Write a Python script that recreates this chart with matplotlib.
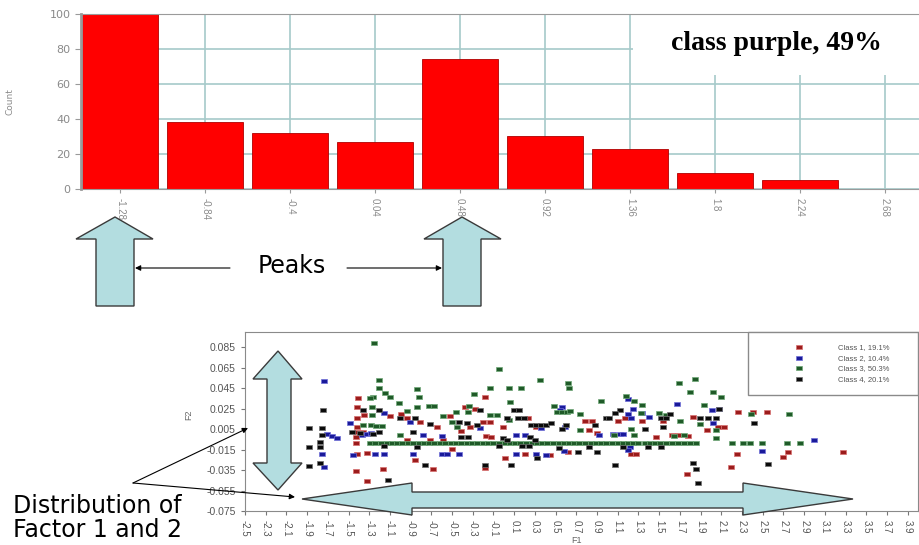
import matplotlib.pyplot as plt
import numpy as np
from matplotlib.patches import Polygon, Rectangle, FancyArrowPatch

W, H = 919, 545

# --- histogram data (class purple) ---
bin_labels = ['-1.28', '-0.84', '-0.4', '0.04', '0.48', '0.92', '1.36', '1.8', '2.24', '2.68']
bin_counts = [100, 38, 32, 27, 74, 30, 23, 9, 5, 0]
count_ticks = [0, 20, 40, 60, 80, 100]

# --- scatter data (F1, F2) per class ---
class_labels = ['Class 1, 19.1%', 'Class 2, 10.4%', 'Class 3, 50.3%', 'Class 4, 20.1%']
class_colors = ['#9b1c1c', '#1a1a9a', '#1f5a28', '#0a0a0a']
class_edges = ['#d87070', '#7070d8', '#70a878', '#707070']

class1 = [
    (-1.41, 0.0355), (-1.42, 0.0268), (-1.42, 0.0164), (-1.35, 0.0187), (-1.10, 0.0177),
    (-1.42, 0.0072), (-1.42, 0.0018), (-1.43, -0.0025), (-1.43, -0.0084), (-1.36, 0.0024),
    (-1.32, -0.0180), (-1.42, -0.0197), (-1.43, -0.0357), (-1.32, -0.0455), (-1.17, -0.0340),
    (-0.99, 0.0203), (-0.94, 0.0164), (-0.81, 0.0121), (-0.65, 0.0072), (-0.52, 0.0177),
    (-0.38, 0.0268), (-0.28, 0.0252), (-0.18, 0.0365), (-0.33, 0.0072), (-0.20, 0.0120),
    (-0.135, 0.0120), (-0.01, 0.0072), (0.235, 0.0164), (0.31, 0.0070), (-0.94, -0.0057),
    (-0.71, -0.0057), (-0.59, -0.0057), (-0.41, 0.0034), (-0.17, -0.0018), (-0.12, -0.0025),
    (-0.50, -0.0148), (0.20, -0.0194), (0.45, -0.0201), (-0.86, -0.0252), (0.01, -0.0236),
    (-0.18, -0.0334), (-0.68, -0.0344),
    (0.78, 0.0130), (0.85, 0.0130), (1.10, 0.0130), (1.17, 0.0155), (1.33, 0.0130),
    (1.54, 0.0130), (1.83, 0.0170), (2.07, 0.0072), (2.13, 0.0072), (1.96, 0.0041),
    (0.82, 0.0041), (0.90, 0.0014), (1.47, -0.0030), (1.62, -0.0008), (1.68, -0.0008),
    (1.78, -0.0018), (0.62, -0.0170), (1.23, -0.0190), (1.28, -0.0190), (2.25, -0.0194),
    (2.19, -0.0324), (2.26, 0.0219), (2.41, 0.0213), (2.54, 0.0213), (2.74, -0.0178),
    (2.70, -0.0220), (3.28, -0.0178), (1.77, -0.0390),
]

class2 = [
    (-1.74, 0.0518), (-1.76, -0.0197), (-1.74, -0.0318), (-1.71, -0.0002), (-1.66, -0.0019),
    (-1.61, -0.0035), (-1.49, 0.0106), (-1.37, -0.0008), (-1.32, -0.0001), (-1.28, 0.0008),
    (-1.16, 0.0209), (-1.24, -0.0197), (-1.16, -0.0197), (-1.46, -0.0200), (-0.91, 0.0120),
    (-0.78, -0.0008), (-0.60, -0.0018), (-0.23, 0.0057), (0.12, -0.0008), (0.20, -0.0008),
    (0.36, 0.0060), (0.56, 0.0262), (0.59, 0.0072), (-0.88, -0.0194), (-0.60, -0.0194),
    (-0.55, -0.0194), (-0.43, -0.0194), (0.12, -0.0194), (0.31, -0.0194), (0.41, -0.0204),
    (0.58, -0.0162), (0.54, 0.0240), (1.20, 0.0348), (1.25, 0.0245), (1.33, 0.0209),
    (1.67, 0.0294), (2.01, 0.0235), (1.20, 0.0203), (1.23, 0.0164), (2.02, 0.0112),
    (0.92, -0.0008), (1.05, 0.0000), (1.12, 0.0000), (1.15, 0.0000), (1.22, -0.0120),
    (1.20, -0.0158), (3.00, -0.0057), (2.49, -0.0162), (2.08, 0.0245), (1.40, 0.0170),
]

class3 = [
    (-1.25, 0.0896), (-1.21, 0.0528), (-1.21, 0.0453), (-1.15, 0.0404), (-1.10, 0.0360),
    (-1.26, 0.0365), (-1.29, 0.0355), (-1.01, 0.0307), (-1.27, 0.0268), (-1.27, 0.0187),
    (-1.36, 0.0095), (-1.28, 0.0095), (-1.23, 0.0085), (-1.18, 0.0085), (-0.84, 0.0447),
    (-0.82, 0.0360), (-0.84, 0.0268), (-0.72, 0.0274), (-0.67, 0.0274), (-0.94, 0.0230),
    (-0.335, 0.0277), (-0.29, 0.0390), (-0.135, 0.0453), (-0.05, 0.0642), (0.05, 0.0457),
    (0.17, 0.0453), (0.06, 0.0320), (0.35, 0.0528), (0.62, 0.0500), (0.63, 0.0453),
    (0.48, 0.0274), (0.51, 0.0220), (0.56, 0.0220), (0.61, 0.0220), (-0.59, 0.0177),
    (-0.46, 0.0220), (-0.345, 0.0220), (-0.135, 0.0187), (-0.07, 0.0187), (0.05, 0.0140),
    (-1.00, -0.0008), (-0.50, 0.0120), (-0.45, 0.0072), (0.64, 0.0230), (0.74, 0.0200),
    (0.94, 0.0323), (1.18, 0.0372), (1.26, 0.0323), (1.33, 0.0284), (1.69, 0.0502),
    (1.85, 0.0545), (1.80, 0.0410), (2.02, 0.0414), (2.10, 0.0365), (1.93, 0.0284),
    (1.32, 0.0209), (1.57, 0.0187), (1.50, 0.0209), (1.70, 0.0130), (1.89, 0.0096),
    (2.05, 0.0041), (2.05, -0.0040), (0.74, 0.0041), (1.06, -0.0008), (1.23, 0.0047),
    (1.26, -0.0008), (1.64, -0.0018), (1.74, -0.0008), (2.39, 0.0196), (2.75, 0.0196),
    # the long row of points just under zero
    (-1.29, -0.0087), (-1.24, -0.0087), (-1.19, -0.0090), (-1.13, -0.0087), (-1.08, -0.0087),
    (-1.03, -0.0087), (-0.98, -0.0085), (-0.93, -0.0087), (-0.88, -0.0087), (-0.82, -0.0087),
    (-0.77, -0.0087), (-0.72, -0.0090), (-0.67, -0.0087), (-0.62, -0.0087), (-0.57, -0.0087),
    (-0.51, -0.0087), (-0.46, -0.0085), (-0.41, -0.0087), (-0.36, -0.0087), (-0.31, -0.0087),
    (-0.26, -0.0087), (-0.20, -0.0087), (-0.15, -0.0090), (-0.10, -0.0087), (-0.05, -0.0087),
    (0.01, -0.0087), (0.06, -0.0087), (0.11, -0.0085), (0.16, -0.0087), (0.21, -0.0087),
    (0.27, -0.0087), (0.32, -0.0087), (0.37, -0.0087), (0.42, -0.0090), (0.47, -0.0087),
    (0.53, -0.0087), (0.58, -0.0087), (0.63, -0.0087), (0.68, -0.0085), (0.73, -0.0087),
    (0.78, -0.0087), (0.84, -0.0087), (0.89, -0.0087), (0.94, -0.0087), (0.99, -0.0090),
    (1.04, -0.0087), (1.10, -0.0087), (1.15, -0.0087), (1.20, -0.0087), (1.25, -0.0085),
    (1.30, -0.0087), (1.36, -0.0087), (1.41, -0.0087), (1.46, -0.0087), (1.51, -0.0087),
    (1.57, -0.0087), (1.62, -0.0087), (1.68, -0.0087), (1.74, -0.0087), (1.80, -0.0087),
    (1.86, -0.0087), (2.20, -0.0087), (2.31, -0.0087), (2.375, -0.0087), (2.49, -0.0087),
    (2.73, -0.0087), (2.86, -0.0087),
]

class4 = [
    (-1.88, 0.0064), (-1.88, -0.0123), (-1.88, -0.0308), (-1.75, 0.0235), (-1.76, 0.0064),
    (-1.76, -0.0008), (-1.78, -0.0080), (-1.78, -0.0128), (-1.78, -0.0279), (-1.36, 0.0235),
    (-1.47, 0.0024), (-1.39, 0.0008), (-1.26, 0.0004), (-1.21, 0.0021), (-1.16, -0.0113),
    (-1.12, -0.0448), (-1.21, 0.0242), (-0.86, 0.0164), (-1.00, 0.0155), (-0.71, 0.0099),
    (-0.43, 0.0120), (-0.36, 0.0106), (-0.26, 0.0090), (-0.23, 0.0242), (0.10, 0.0242),
    (0.15, 0.0242), (0.14, 0.0155), (0.19, 0.0155), (0.03, 0.0155), (0.26, 0.0090),
    (0.31, 0.0090), (0.36, 0.0090), (0.41, 0.0090), (0.46, 0.0112), (-0.88, 0.0024),
    (-0.41, -0.0030), (-0.345, -0.0030), (-0.01, -0.0040), (0.03, -0.0057), (0.25, -0.0025),
    (0.30, -0.0057), (-0.84, -0.0123), (-0.05, -0.0113), (0.24, -0.0113), (0.53, -0.0130),
    (0.82, -0.0125), (-0.76, -0.0301), (0.32, -0.0236), (0.07, -0.0301), (-0.18, -0.0301),
    (1.12, 0.0235), (1.07, 0.0209), (0.99, 0.0164), (1.02, 0.0155), (1.52, 0.0155),
    (1.57, 0.0164), (1.60, 0.0203), (1.89, 0.0155), (1.97, 0.0155), (2.05, 0.0155),
    (2.08, 0.0248), (1.36, 0.0047), (1.54, 0.0072), (0.88, 0.0090), (0.60, 0.0090),
    (0.56, 0.0050), (0.72, -0.0170), (0.90, -0.0170), (1.15, -0.0125), (1.39, -0.0120),
    (1.52, -0.0123), (1.07, -0.0301), (1.83, -0.0285), (1.86, -0.0343), (1.88, -0.0480),
    (2.42, 0.0115), (2.55, -0.0290), (0.18, -0.0113),
]

f1_ticks = [-2.5, -2.3, -2.1, -1.9, -1.7, -1.5, -1.3, -1.1, -0.9, -0.7, -0.5, -0.3, -0.1,
            0.1, 0.3, 0.5, 0.7, 0.9, 1.1, 1.3, 1.5, 1.7, 1.9, 2.1, 2.3, 2.5, 2.7, 2.9,
            3.1, 3.3, 3.5, 3.7, 3.9]
f2_ticks = [0.085, 0.065, 0.045, 0.025, 0.005, -0.015, -0.035, -0.055, -0.075]


def fxy(x, y):
    # pixel position (origin top-left) -> figure fraction
    return (x / W, 1 - y / H)


def ax_rect(left, top, right, bottom):
    return [left / W, 1 - bottom / H, (right - left) / W, (bottom - top) / H]


fig = plt.figure(figsize=(W / 100, H / 100), dpi=100)

# ---------------- histogram ----------------
ax1 = fig.add_axes(ax_rect(81, 14, 919, 189))
pos = np.arange(len(bin_labels))
ax1.bar(pos, bin_counts, width=0.9, color='#ff0000', edgecolor='#b00000', linewidth=0.6, zorder=2)
ax1.set_xlim(-0.46, 9.4)
ax1.set_ylim(0, 100)
ax1.set_yticks(count_ticks)
ax1.set_xticks(pos)
ax1.set_xticklabels(bin_labels, rotation=-90, fontsize=7, family='Liberation Sans', color='#8a8a8a')
ax1.tick_params(axis='y', labelsize=8, labelcolor='#8a8a8a', color='#9a9a9a', length=4)
ax1.tick_params(axis='x', color='#9a9a9a', length=3)
ax1.grid(True, color='#a6caca', lw=1.2)
ax1.set_axisbelow(True)
for s in ['left', 'top', 'bottom']:
    ax1.spines[s].set_color('#9a9a9a')
ax1.spines['left'].set_linewidth(2)
ax1.spines['right'].set_visible(False)
ax1.set_ylabel('Count', fontsize=6.5, color='#8a8a8a')
ax1.yaxis.set_label_coords(-0.079, 0.5)
ax1.add_patch(Rectangle((0.659, 0.651), 0.341, 0.349, transform=ax1.transAxes,
                        facecolor='white', edgecolor='none', zorder=1))
ax1.text(0.83, 0.83, 'class purple, 49%', transform=ax1.transAxes, ha='center', va='center',
         fontsize=20, fontweight='bold', family='Liberation Serif', zorder=3)

# ---------------- scatter ----------------
ax2 = fig.add_axes(ax_rect(245, 332, 918, 511))
rect_marker = [(-1.4, -1), (1.4, -1), (1.4, 1), (-1.4, 1), (-1.4, -1)]
for pts, lab, c, ec in zip([class1, class2, class3, class4], class_labels, class_colors, class_edges):
    arr = np.array(pts)
    ax2.scatter(arr[:, 0], arr[:, 1], marker=rect_marker, s=14, color=c, edgecolors=ec,
                linewidths=0.5, label=lab, zorder=2)
ax2.set_xlim(-2.5, 4.0)
ax2.set_ylim(-0.075, 0.1)
ax2.set_xticks(f1_ticks)
ax2.set_xticklabels([f'{v:.1f}' for v in f1_ticks], rotation=-90, fontsize=7,
                    family='Liberation Sans', color='#555555')
ax2.set_yticks(f2_ticks)
ax2.set_yticklabels([f'{v:.3f}' for v in f2_ticks], fontsize=7.5, family='Liberation Sans',
                    color='#555555')
ax2.tick_params(color='#777777', length=3)
for s in ax2.spines.values():
    s.set_color('#8a8a8a')
ax2.set_xlabel('F1', fontsize=6.5, color='#666666', family='Liberation Sans')
ax2.xaxis.set_label_coords(0.493, -0.138)
ax2.set_ylabel('F2', fontsize=6.5, color='#666666', family='Liberation Sans')
ax2.yaxis.set_label_coords(-0.077, 0.54)
leg = ax2.legend(loc='upper left', bbox_to_anchor=((748 - 245) / 673, 0, (918 - 748) / 673, 1),
                 mode='expand', borderaxespad=0, fontsize=5.5, handlelength=10.3,
                 handletextpad=0.0, borderpad=1.5, labelspacing=0.45, scatterpoints=1,
                 markerscale=1.2, fancybox=False, framealpha=1, edgecolor='#8a8a8a',
                 prop={'family': 'Liberation Sans', 'size': 5.5})
leg.get_frame().set_linewidth(1)
for t in leg.get_texts():
    t.set_color('#555555')

# ---------------- annotation shapes ----------------
face, edge = '#b3dde0', '#3a3a3a'


def block(points):
    fig.add_artist(Polygon([fxy(x, y) for x, y in points], closed=True, transform=fig.transFigure,
                           facecolor=face, edgecolor=edge, lw=1, zorder=5))


block([(115, 217), (153, 239), (134, 239), (134, 306), (96, 306), (96, 239), (76, 239)])
block([(462, 217), (501, 239), (481, 239), (481, 306), (443, 306), (443, 239), (424, 239)])
block([(278, 351), (302, 379), (291, 379), (291, 463), (302, 463), (278, 490),
       (253, 463), (267, 463), (267, 379), (253, 379)])
block([(302, 499), (412, 483), (412, 492), (743, 492), (743, 483), (853, 499),
       (743, 515), (743, 508), (412, 508), (412, 515)])


def thin_arrow(a, b):
    fig.add_artist(FancyArrowPatch(fxy(*a), fxy(*b), transform=fig.transFigure,
                                   arrowstyle='-|>', mutation_scale=8, lw=0.8,
                                   color='black', shrinkA=0, shrinkB=0, zorder=6))


thin_arrow((230, 268), (135, 268))
thin_arrow((347, 268), (442, 268))
thin_arrow((133, 483), (248, 428))
thin_arrow((133, 483), (295, 497))

fig.text(*fxy(292, 266), 'Peaks', ha='center', va='center', fontsize=17, zorder=6)
fig.text(*fxy(13, 513), 'Distribution of', ha='left', va='baseline', fontsize=17, zorder=6)
fig.text(*fxy(13, 537), 'Factor 1 and 2', ha='left', va='baseline', fontsize=17, zorder=6)

fig.savefig('out.png', dpi=100)
